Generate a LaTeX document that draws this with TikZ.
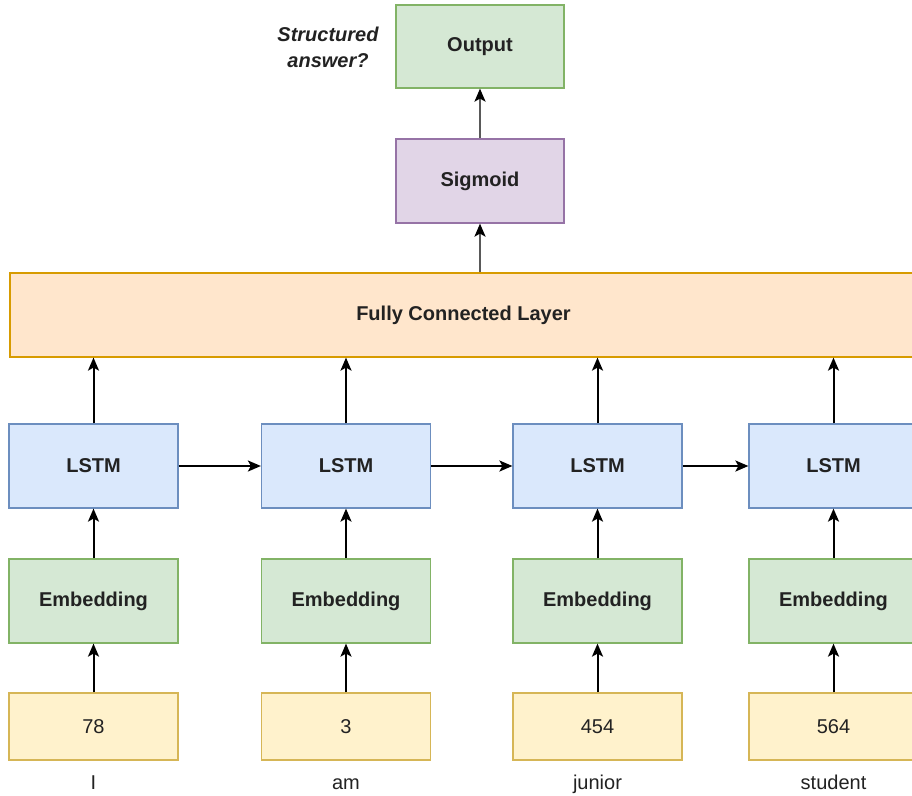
\documentclass[tikz,border=0pt]{standalone}
\usepackage{fontspec}
\setmainfont{Liberation Sans}
\usetikzlibrary{arrows.meta}

\definecolor{grnfill}{HTML}{D5E8D4}\definecolor{grnline}{HTML}{82B366}
\definecolor{purfill}{HTML}{E1D5E7}\definecolor{purline}{HTML}{9673A6}
\definecolor{orgfill}{HTML}{FFE6CC}\definecolor{orgline}{HTML}{D79B00}
\definecolor{blufill}{HTML}{DAE8FC}\definecolor{bluline}{HTML}{6C8EBF}
\definecolor{yelfill}{HTML}{FFF2CC}\definecolor{yelline}{HTML}{D6B656}
\definecolor{txt}{HTML}{222222}

\tikzset{
  box/.style={draw, line width=1.2pt, rectangle, inner sep=0pt,
    minimum width=169pt, minimum height=84pt, text=txt,
    font=\fontsize{20}{24}\selectfont\bfseries},
  greenbox/.style={box, fill=grnfill, draw=grnline},
  purplebox/.style={box, fill=purfill, draw=purline},
  orangebox/.style={box, fill=orgfill, draw=orgline},
  bluebox/.style={box, fill=blufill, draw=bluline},
  tokenbox/.style={box, fill=yelfill, draw=yelline, minimum height=67pt,
    font=\fontsize{20}{24}\selectfont},
  word/.style={text=txt, inner sep=0pt, font=\fontsize{20}{24}\selectfont},
  flow/.style={-{Stealth[length=13pt,width=11pt,inset=3pt]}, line width=2pt, black},
  flowgray/.style={flow, draw=black!65,
    -{Stealth[length=13pt,width=11pt,inset=3pt,fill=black,color=black]}}
}

\begin{document}
\begin{tikzpicture}[x=1pt,y=-1pt]
  \useasboundingbox (0,0) rectangle (912,795);
  \clip (0,0) rectangle (912,795);

  % top of the network
  \node[greenbox, minimum width=168pt, minimum height=83pt] (out) at (480,46.5) {Output};
  \node[purplebox, minimum width=168pt] (sig) at (480,181) {Sigmoid};
  \node[text=txt, align=center, inner sep=0pt,
        font=\fontsize{20}{26}\selectfont\bfseries\itshape] (ans) at (328,47) {Structured\\answer?};

  % dense layer spanning all time steps
  \node[orangebox, minimum width=912pt] (fc) at (466,315) {};
  \node[text=txt, inner sep=0pt, font=\fontsize{20}{24}\selectfont\bfseries] (fclabel) at (463.5,315) {Fully Connected Layer};

  % four time steps
  \foreach \i/\x/\num/\w in {1/93.5/78/I, 2/346/3/am, 3/597.5/454/junior, 4/833.5/564/student}{
    \node[bluebox] (lstm\i) at (\x,466) {LSTM};
    \node[greenbox] (emb\i) at (\x,601) {Embedding};
    \node[tokenbox] (tok\i) at (\x,726.5) {\num};
    \node[word, anchor=base] (w\i) at (\x,789) {\w};
    \draw[flow] (tok\i) -- (emb\i);
    \draw[flow] (emb\i) -- (lstm\i);
    \draw[flow] (lstm\i.north) -- (lstm\i.north |- fc.south);
  }

  % recurrent connections
  \draw[flow] (lstm1) -- (lstm2);
  \draw[flow] (lstm2) -- (lstm3);
  \draw[flow] (lstm3) -- (lstm4);

  % head
  \draw[flowgray] (fc.north -| sig.south) -- (sig.south);
  \draw[flowgray] (sig) -- (out);
\end{tikzpicture}
\end{document}
